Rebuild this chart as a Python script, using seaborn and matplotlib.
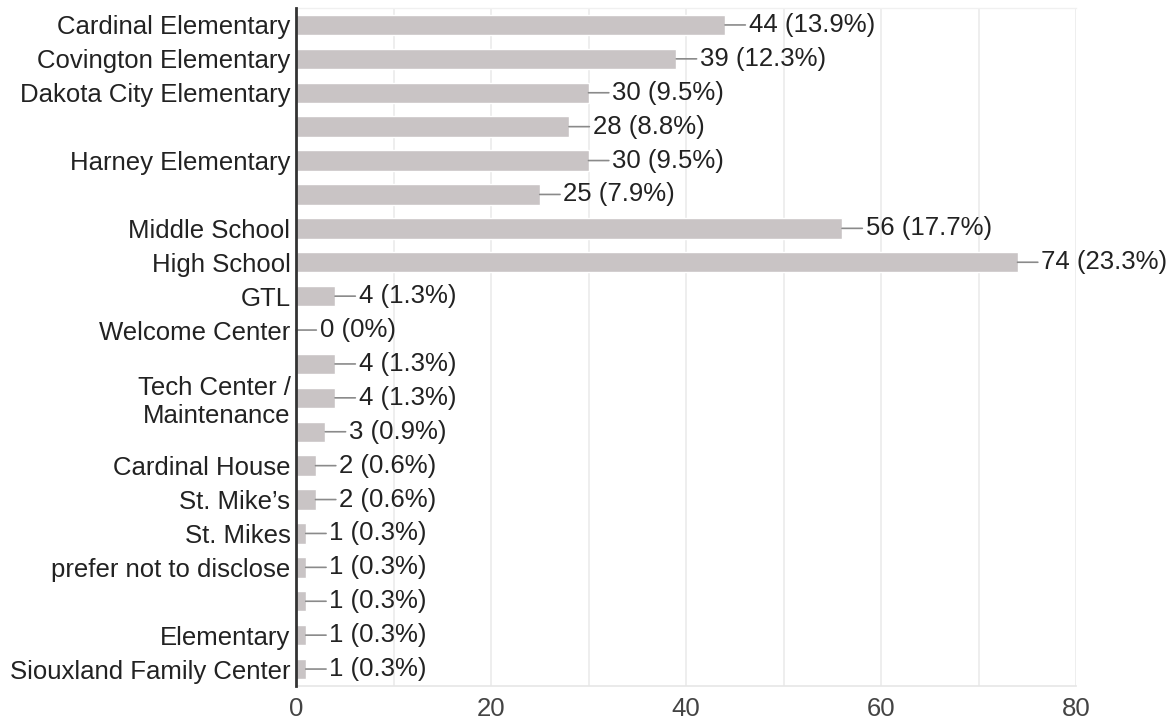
import matplotlib
matplotlib.use("Agg")
import matplotlib.pyplot as plt
import seaborn as sns
import pandas as pd

# Data
schools = ["Cardinal Elementary", "Covington Elementary", "Dakota City Elementary", "",
           "Harney Elementary", "", "Middle School", "High School", "GTL",
           "Welcome Center", "", "Tech Center /\nMaintenance", "", "Cardinal House",
           "St. Mike\u2019s", "St. Mikes", "prefer not to disclose", "", "Elementary",
           "Siouxland Family Center"]
counts = [44, 39, 30, 28, 30, 25, 56, 74, 4, 0, 4, 4, 3, 2, 2, 1, 1, 1, 1, 1]
percents = ["13.9%", "12.3%", "9.5%", "8.8%", "9.5%", "7.9%", "17.7%", "23.3%", "1.3%",
            "0%", "1.3%", "1.3%", "0.9%", "0.6%", "0.6%", "0.3%", "0.3%", "0.3%",
            "0.3%", "0.3%"]

df = pd.DataFrame({"row": range(len(counts)), "count": counts})

sns.set_style("white")
plt.rcParams["font.family"] = ["Liberation Sans", "DejaVu Sans"]

fig = plt.figure(figsize=(11.76, 7.27), dpi=100)
ax = fig.add_axes([296 / 1176, 1 - 686 / 727, 780 / 1176, 678 / 727])

sns.barplot(data=df, x="count", y="row", orient="h", color="#c9c4c5",
            saturation=1, width=0.6, ax=ax, zorder=2)

# Value labels with short leader lines
for i, (v, p) in enumerate(zip(counts, percents)):
    ax.annotate("{} ({})".format(v, p), xy=(v, i), xytext=(17, 0),
                textcoords="offset points", va="center", ha="left",
                fontsize=18.5, color="#222222",
                arrowprops=dict(arrowstyle="-", color="#8a8a8a", lw=1.2,
                                shrinkA=0, shrinkB=0))

ax.set_xlim(0, 80)
ax.set_ylim(len(counts) - 0.5, -0.5)
ax.set_xticks(range(0, 81, 20))
ax.set_xticks(range(0, 81, 10), minor=True)
ax.grid(axis="x", which="both", color="#ebebeb", lw=1.2, zorder=0)
ax.set_yticks(range(len(schools)))
ax.set_yticklabels(schools, fontsize=18.5, color="#222222", linespacing=1.2)
ax.tick_params(axis="x", labelsize=18.5, labelcolor="#444444", length=0, pad=8)
ax.tick_params(axis="x", which="minor", length=0)
ax.tick_params(axis="y", length=0, pad=4)
ax.set_xlabel("")
ax.set_ylabel("")

ax.spines["right"].set_visible(False)
ax.spines["top"].set_color("#f0f0f0")
ax.spines["top"].set_linewidth(1)
ax.spines["bottom"].set_color("#e6e6e6")
ax.spines["bottom"].set_linewidth(1.2)
ax.spines["left"].set_color("#333333")
ax.spines["left"].set_linewidth(2)
ax.spines["left"].set_zorder(3)

plt.savefig("out.png", dpi=100)
